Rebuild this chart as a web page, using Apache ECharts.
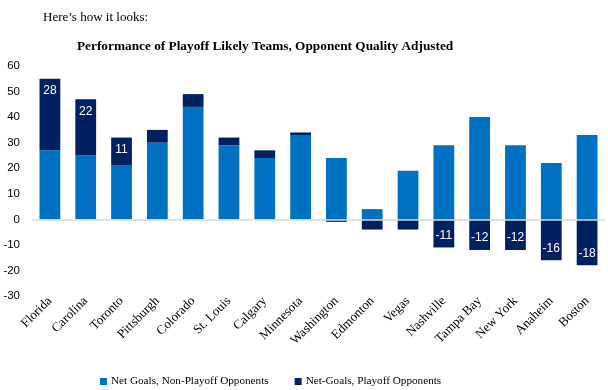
<!DOCTYPE html>
<html><head><meta charset="utf-8">
<script src="https://cdn.jsdelivr.net/npm/echarts@6/dist/echarts.min.js"></script>
<style>html,body{margin:0;padding:0;background:#fff}#c{width:608px;height:390px}</style>
</head><body><div id="c"></div>
<script>
const categories = ["Florida","Carolina","Toronto","Pittsburgh","Colorado","St. Louis","Calgary","Minnesota","Washington","Edmonton","Vegas","Nashville","Tampa Bay","New York","Anaheim","Boston"];
const nonPlayoff = [27,25,21,30,44,29,24,33,24,4,19,29,40,29,22,33];
const playoff = [28,22,11,5,5,3,3,1,-1,-4,-4,-11,-12,-12,-16,-18];
const yTicks = [-30,-20,-10,0,10,20,30,40,50,60];

const chart = echarts.init(document.getElementById('c'), null, {renderer:'canvas'});
chart.setOption({
  animation:false,
  title:[
    {text:"Here\u2019s how it looks:", left:38, top:6, textStyle:{fontFamily:'Liberation Serif', fontSize:13, fontWeight:'normal', color:'#000'}},
    {text:"Performance of Playoff Likely Teams, Opponent Quality Adjusted", left:72, top:35, textStyle:{fontFamily:'Liberation Serif', fontSize:13.3, fontWeight:'bold', color:'#000'}}
  ],
  grid:{left:32, right:3, top:66, bottom:94, containLabel:false},
  legend:{top:371, left:95, icon:'rect', itemWidth:7, itemHeight:7, itemGap:26,
    textStyle:{fontFamily:'Liberation Serif', fontSize:11.2, color:'#000', padding:[0,0,0,-1]},
    data:["Net Goals, Non-Playoff Opponents","Net-Goals, Playoff Opponents"]},
  xAxis:{type:'category', data:categories,
    axisLine:{show:false}, axisTick:{show:false},
    axisLabel:{rotate:45, interval:0, fontFamily:'Liberation Serif', fontSize:13, color:'#000', margin:3}},
  yAxis:{type:'value', min:yTicks[0], max:yTicks[yTicks.length-1], interval:10,
    splitLine:{show:false}, axisLine:{show:false}, axisTick:{show:false},
    axisLabel:{fontFamily:'Liberation Sans', fontSize:11.5, color:'#000', margin:12}},
  series:[
    {name:"Net Goals, Non-Playoff Opponents", type:'bar', stack:'a', data:nonPlayoff, barCategoryGap:'42%',
      itemStyle:{color:'#0070C0'},
      markLine:{silent:true, symbol:'none', label:{show:false}, lineStyle:{color:'#d9d9d9', type:'solid', width:1.5}, data:[{yAxis:0}]}},
    {name:"Net-Goals, Playoff Opponents", type:'bar', stack:'a', barCategoryGap:'42%',
      itemStyle:{color:'#002060'},
      data: playoff.map(v=>({value:v, label:{show:Math.abs(v)>=10, position: v>0?'insideTop':'insideBottom', distance:6,
        color:'#fff', fontFamily:'Liberation Sans', fontSize:12}}))}
  ]
});
</script></body></html>
